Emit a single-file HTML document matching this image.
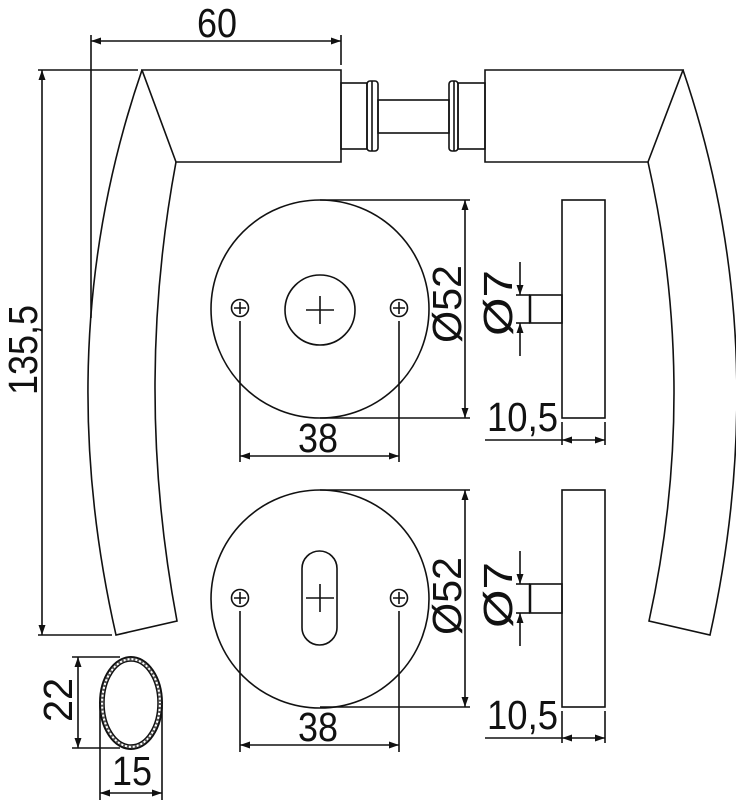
<!DOCTYPE html>
<html><head><meta charset="utf-8"><style>
html,body{margin:0;padding:0;background:#fff;}
svg{display:block;}
text{font-family:"Liberation Sans",sans-serif;fill:#111;}
</style></head><body>
<svg width="736" height="800" viewBox="0 0 736 800" xmlns="http://www.w3.org/2000/svg">
<defs>
<marker id="a" viewBox="0 0 10 10" refX="10" refY="5" markerWidth="10" markerHeight="10" markerUnits="userSpaceOnUse" orient="auto-start-reverse"><path d="M0,1.5 L10,5 L0,8.5 z" fill="#111"/></marker>
</defs>
<g stroke="#111" stroke-width="1.6" fill="none">
<path d="M142,70 L341,70 L341,162 L176,162 Z"/>
<path d="M142,70 Q49,340 116,635 L177,621 Q133.5,390 176,162"/>
<rect x="341" y="83" width="26" height="66"/>
<rect x="367" y="81" width="11" height="70" rx="3"/>
<line x1="372" y1="81" x2="372" y2="151"/>
<rect x="378" y="100" width="71" height="33"/>
<rect x="449" y="81" width="9" height="70" rx="3"/>
<line x1="454" y1="81" x2="454" y2="151"/>
<rect x="458" y="83" width="27" height="66"/>
<path d="M683,70 L485,70 L485,162 L648,162 Z"/>
<path d="M683,70 Q775,340 710,635 L649,621 Q699.5,390 648,162"/>
<line x1="91" y1="35" x2="91" y2="318"/>
<line x1="341" y1="35" x2="341" y2="65"/>
<line x1="91" y1="41" x2="341" y2="41" marker-start="url(#a)" marker-end="url(#a)"/>
<line x1="38" y1="70" x2="138" y2="70"/>
<line x1="38" y1="635" x2="112" y2="635"/>
<line x1="42" y1="70" x2="42" y2="635" marker-start="url(#a)" marker-end="url(#a)"/>
<circle cx="320" cy="309" r="109"/>
<circle cx="320" cy="310" r="35"/>
<path d="M306,310 H334 M320,296 V324"/>
<circle cx="240" cy="308" r="8.5"/><path d="M234,308 H246 M240,302 V314"/>
<circle cx="399" cy="308" r="8.5"/><path d="M393,308 H405 M399,302 V314"/>
<line x1="240" y1="321" x2="240" y2="462"/>
<line x1="399" y1="321" x2="399" y2="462"/>
<line x1="240" y1="456" x2="399" y2="456" marker-start="url(#a)" marker-end="url(#a)"/>
<line x1="320" y1="200" x2="470" y2="200"/>
<line x1="320" y1="418" x2="470" y2="418"/>
<line x1="465" y1="200" x2="465" y2="418" marker-start="url(#a)" marker-end="url(#a)"/>
<circle cx="320" cy="599" r="109"/>
<rect x="302" y="551" width="35" height="94" rx="17.5"/>
<path d="M306,598 H334 M320,584 V612"/>
<circle cx="240" cy="598" r="8.5"/><path d="M234,598 H246 M240,592 V604"/>
<circle cx="399" cy="598" r="8.5"/><path d="M393,598 H405 M399,592 V604"/>
<line x1="240" y1="611" x2="240" y2="752"/>
<line x1="399" y1="611" x2="399" y2="752"/>
<line x1="240" y1="745" x2="399" y2="745" marker-start="url(#a)" marker-end="url(#a)"/>
<line x1="320" y1="490" x2="470" y2="490"/>
<line x1="320" y1="707" x2="470" y2="707"/>
<line x1="465" y1="490" x2="465" y2="707" marker-start="url(#a)" marker-end="url(#a)"/>
<rect x="562" y="200" width="43" height="218"/>
<rect x="530" y="295" width="32" height="28"/>
<line x1="530" y1="295" x2="530" y2="323" stroke-width="2.5"/>
<line x1="516" y1="295" x2="530" y2="295"/><line x1="516" y1="323" x2="530" y2="323"/>
<line x1="520" y1="262" x2="520" y2="295" marker-end="url(#a)"/>
<line x1="520" y1="356" x2="520" y2="323" marker-end="url(#a)"/>
<line x1="562" y1="422" x2="562" y2="445"/><line x1="605" y1="422" x2="605" y2="445"/>
<line x1="485" y1="440" x2="562" y2="440"/>
<line x1="562" y1="440" x2="605" y2="440" marker-start="url(#a)" marker-end="url(#a)"/>
<rect x="562" y="490" width="43" height="217"/>
<rect x="530" y="584" width="32" height="29"/>
<line x1="530" y1="584" x2="530" y2="613" stroke-width="2.5"/>
<line x1="516" y1="584" x2="530" y2="584"/><line x1="516" y1="613" x2="530" y2="613"/>
<line x1="520" y1="551" x2="520" y2="584" marker-end="url(#a)"/>
<line x1="520" y1="646" x2="520" y2="613" marker-end="url(#a)"/>
<line x1="562" y1="711" x2="562" y2="743"/><line x1="605" y1="711" x2="605" y2="743"/>
<line x1="485" y1="738" x2="562" y2="738"/>
<line x1="562" y1="738" x2="605" y2="738" marker-start="url(#a)" marker-end="url(#a)"/>
<ellipse cx="131" cy="703" rx="31" ry="46" stroke-width="2"/>
<ellipse cx="131" cy="703" rx="27" ry="42" stroke-width="1.5"/>
<ellipse cx="131" cy="703" rx="29" ry="44" stroke-width="2.5" stroke="#555" stroke-dasharray="2 2"/>
<line x1="72" y1="657" x2="120" y2="657"/>
<line x1="72" y1="748" x2="120" y2="748"/>
<line x1="78" y1="657" x2="78" y2="748" marker-start="url(#a)" marker-end="url(#a)"/>
<line x1="100" y1="705" x2="100" y2="800"/>
<line x1="162" y1="705" x2="162" y2="800"/>
<line x1="100" y1="793" x2="162" y2="793" marker-start="url(#a)" marker-end="url(#a)"/>
</g>
<g font-size="41">
<text x="197" y="37" textLength="40" lengthAdjust="spacingAndGlyphs">60</text>
<text x="298" y="452" textLength="40" lengthAdjust="spacingAndGlyphs">38</text>
<text x="298" y="741" textLength="40" lengthAdjust="spacingAndGlyphs">38</text>
<text x="487" y="431" textLength="71" lengthAdjust="spacingAndGlyphs">10,5</text>
<text x="487" y="729" textLength="71" lengthAdjust="spacingAndGlyphs">10,5</text>
<text x="112" y="785" textLength="40" lengthAdjust="spacingAndGlyphs">15</text>
<text transform="translate(37,395) rotate(-90)" textLength="90" lengthAdjust="spacingAndGlyphs">135,5</text>
<text transform="translate(461,343) rotate(-90)" textLength="78" lengthAdjust="spacingAndGlyphs">Ø52</text>
<text transform="translate(461,635) rotate(-90)" textLength="78" lengthAdjust="spacingAndGlyphs">Ø52</text>
<text transform="translate(512,336) rotate(-90)" textLength="66" lengthAdjust="spacingAndGlyphs">Ø7</text>
<text transform="translate(512,628) rotate(-90)" textLength="66" lengthAdjust="spacingAndGlyphs">Ø7</text>
<text transform="translate(72,722) rotate(-90)" textLength="44" lengthAdjust="spacingAndGlyphs">22</text>
</g>
</svg>
</body></html>
